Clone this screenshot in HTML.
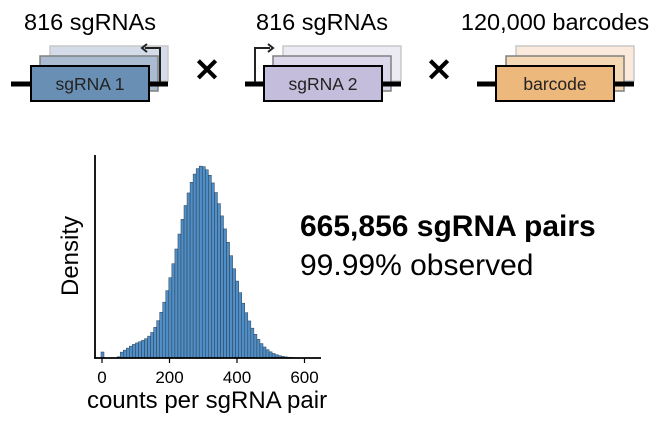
<!DOCTYPE html>
<html><head><meta charset="utf-8"><style>
html,body{margin:0;padding:0;background:#fff;width:668px;height:426px;overflow:hidden}
text{font-family:"Liberation Sans",Arial,sans-serif}
</style></head><body>
<svg id="s" width="668" height="426" viewBox="0 0 668 426" xmlns="http://www.w3.org/2000/svg">
<text x="90" y="30" font-size="23.5" text-anchor="middle">816 sgRNAs</text>
<text x="322" y="30" font-size="23.5" text-anchor="middle">816 sgRNAs</text>
<text x="555" y="30" font-size="23.5" text-anchor="middle">120,000 barcodes</text>
<!-- group 1 -->
<line x1="11" y1="84" x2="168" y2="84" stroke="#000" stroke-width="5"/>
<rect x="50" y="46" width="118" height="35" fill="#d3dce8" stroke="#c8c8c8" stroke-width="1.5"/>
<rect x="40" y="56" width="118" height="35" fill="#a9bcd2" stroke="#808080" stroke-width="1.5"/>
<line x1="149" y1="84" x2="168" y2="84" stroke="#000" stroke-width="5"/>
<rect x="31" y="66" width="118" height="35" fill="#6a8fb4" stroke="#000" stroke-width="2"/>
<text x="90" y="90" font-size="17.5" text-anchor="middle" fill="#222">sgRNA 1</text>
<polyline points="160,82 160,48 145,48" fill="none" stroke="#222" stroke-width="2"/>
<polyline points="147,44 142,48 147,52" fill="none" stroke="#222" stroke-width="2"/>
<text x="207" y="81" font-size="32" font-weight="bold" text-anchor="middle">✕</text>
<!-- group 2 -->
<line x1="245" y1="84" x2="401" y2="84" stroke="#000" stroke-width="5"/>
<rect x="283" y="46" width="118" height="35" fill="#ecebf3" stroke="#c8c8c8" stroke-width="1.5"/>
<rect x="273" y="56" width="118" height="35" fill="#dcd7ea" stroke="#808080" stroke-width="1.5"/>
<line x1="382" y1="84" x2="401" y2="84" stroke="#000" stroke-width="5"/>
<rect x="264" y="66" width="118" height="35" fill="#c5bddc" stroke="#000" stroke-width="2"/>
<text x="323" y="90" font-size="17.5" text-anchor="middle" fill="#222">sgRNA 2</text>
<polyline points="255,82 255,48 270,48" fill="none" stroke="#222" stroke-width="2"/>
<polyline points="268,44 273,48 268,52" fill="none" stroke="#222" stroke-width="2"/>
<text x="439" y="81" font-size="32" font-weight="bold" text-anchor="middle">✕</text>
<!-- group 3 -->
<line x1="477" y1="84" x2="634" y2="84" stroke="#000" stroke-width="5"/>
<rect x="516" y="46" width="118" height="35" fill="#fbeadb" stroke="#c8c8c8" stroke-width="1.5"/>
<rect x="506" y="56" width="118" height="35" fill="#f5d8b4" stroke="#808080" stroke-width="1.5"/>
<line x1="614" y1="84" x2="634" y2="84" stroke="#000" stroke-width="5"/>
<rect x="496" y="66" width="118" height="35" fill="#ecb87b" stroke="#000" stroke-width="2"/>
<text x="555" y="90" font-size="17.5" text-anchor="middle" fill="#222">barcode</text>
<!-- histogram -->
<g id="bars"></g>
<line x1="95" y1="155" x2="95" y2="358" stroke="#000" stroke-width="1.8"/>
<line x1="94" y1="358" x2="321" y2="358" stroke="#000" stroke-width="1.8"/>
<g stroke="#000" stroke-width="1.2">
<line x1="102" y1="358" x2="102" y2="363"/><line x1="169.5" y1="358" x2="169.5" y2="363"/>
<line x1="237" y1="358" x2="237" y2="363"/><line x1="304.5" y1="358" x2="304.5" y2="363"/>
</g>
<g font-size="17" text-anchor="middle">
<text x="102" y="383">0</text><text x="169.5" y="383">200</text><text x="237" y="383">400</text><text x="304.5" y="383">600</text>
</g>
<text x="207" y="408" font-size="24" text-anchor="middle">counts per sgRNA pair</text>
<text transform="translate(78,256) rotate(-90)" font-size="24" text-anchor="middle">Density</text>
<text x="300" y="236" font-size="30" font-weight="bold">665,856 sgRNA pairs</text>
<text x="300" y="275" font-size="30">99.99% observed</text>
</svg>
<script>
var g=document.getElementById('bars'),h='';
function d(c){var s=c<295?70:78;var m=Math.exp(-Math.pow(c-295,2)/(2*s*s));
var sh=0.055*Math.exp(-Math.pow(c-100,2)/(2*35*35));
var v=m+sh; if(c<58)v*=Math.max(0,(c-46)/12);return v;}
var bw=9;
for(var c=45;c<=640;c+=bw){var v=d(c+bw/2);var hh=v*192;if(hh<0.3)continue;
var x=102+c*0.3375;h+='<rect x="'+x.toFixed(2)+'" y="'+(358-hh).toFixed(2)+'" width="'+(bw*0.3375).toFixed(2)+'" height="'+hh.toFixed(2)+'" fill="#4f8ec6" stroke="#2c3e50" stroke-width="0.5"/>';}
h+='<rect x="101" y="352" width="3" height="6" fill="#4f8ec6" stroke="#2c3e50" stroke-width="0.5"/>';
g.innerHTML=h;
</script>
</body></html>
